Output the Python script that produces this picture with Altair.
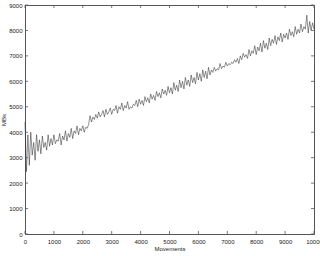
import altair as alt
import pandas as pd

movements = list(range(0, 10001, 50))
mbs = [
    4400, 2450, 3900, 2700, 4000, 3100, 3600, 2900, 3900, 3250,
    3700, 3150, 3850, 3400, 3600, 3300, 3900, 3450, 3750, 3500,
    3900, 3550, 3700, 3650, 3950, 3500, 3850, 3700, 4050, 3650,
    3950, 3800, 4150, 3750, 4050, 3950, 4250, 3900, 4150, 4050,
    4250, 4000, 4200, 4150, 4300, 4650, 4400, 4600, 4500, 4700,
    4550, 4800, 4600, 4700, 4850, 4600, 4900, 4700, 4800, 4950,
    4700, 4900, 4850, 5050, 4750, 5000, 4900, 5150, 4850, 5050,
    4950, 5200, 4900, 5000, 4950, 5100, 5050, 5250, 5000, 5300,
    5100, 5250, 5050, 5400, 5200, 5350, 5150, 5500, 5300, 5450,
    5250, 5600, 5400, 5550, 5350, 5700, 5500, 5650, 5450, 5800,
    5550, 5750, 5500, 5950, 5650, 5850, 5600, 6050, 5750, 6000,
    5700, 6150, 5850, 6050, 5800, 6250, 5950, 6150, 5900, 6350,
    6050, 6300, 6000, 6450, 6150, 6400, 6100, 6550, 6250, 6450,
    6350, 6550, 6400, 6500, 6450, 6700, 6500, 6600, 6550, 6750,
    6600, 6700, 6650, 6750, 6700, 6850, 6750, 6900, 6700, 7000,
    6850, 7100, 6950, 7050, 6900, 7250, 7000, 7200, 7100, 7400,
    7050, 7350, 7200, 7500, 7150, 7600, 7300, 7500, 7250, 7700,
    7400, 7650, 7500, 7800, 7450, 7750, 7600, 7900, 7550, 7850,
    7700, 7900, 7650, 8050, 7800, 7950, 7750, 8150, 7850, 8050,
    7900, 8250, 7950, 8150, 8050, 8600, 7900, 8350, 8000, 8300,
    8050,
]
x_ticks = list(range(0, 10001, 1000))
y_ticks = list(range(0, 9001, 1000))

W, H = 289, 229
FONT = "Liberation Sans"

df = pd.DataFrame({"Movements": movements, "MBs": mbs})
xt = pd.DataFrame({"Movements": x_ticks})
yt = pd.DataFrame({"MBs": y_ticks})

xs = alt.Scale(domain=[0, 10000], nice=False, zero=False)
ys = alt.Scale(domain=[0, 9000], nice=False)

xaxis = alt.Axis(values=x_ticks, format="d", title="Movements", tickSize=0,
                 domain=False, grid=False, labelFlush=False, labelOverlap=False,
                 labelPadding=4, titlePadding=1)
yaxis = alt.Axis(values=y_ticks, format="d", title="MBs", tickSize=0,
                 domain=False, grid=False, labelOverlap=False, labelPadding=3,
                 titlePadding=2)

X = alt.X("Movements:Q", scale=xs, axis=xaxis)
Y = alt.Y("MBs:Q", scale=ys, axis=yaxis)

line = alt.Chart(df).mark_line(color="#222", strokeWidth=0.5).encode(x=X, y=Y)

tick_len = 3
rule = dict(color="#555", strokeWidth=0.8)
bx = alt.Chart(xt).mark_rule(**rule).encode(
    x=X, y=alt.value(H), y2=alt.value(H - tick_len))
tx = alt.Chart(xt).mark_rule(**rule).encode(
    x=X, y=alt.value(0), y2=alt.value(tick_len))
ly = alt.Chart(yt).mark_rule(**rule).encode(
    y=Y, x=alt.value(0), x2=alt.value(tick_len))
ry = alt.Chart(yt).mark_rule(**rule).encode(
    y=Y, x=alt.value(W), x2=alt.value(W - tick_len))

chart = alt.layer(line, bx, tx, ly, ry).properties(
    width=W, height=H,
    autosize=alt.AutoSizeParams(type="none"),
    padding={"left": 25, "top": 5, "right": 6, "bottom": 22},
    background="white",
).configure_view(
    stroke="#555", strokeWidth=1
).configure_axis(
    labelFont=FONT, labelFontSize=6, labelColor="#222",
    titleFont=FONT, titleFontSize=6, titleColor="#222", titleFontWeight="normal",
)

chart.save("out.html", embed_options={"renderer": "svg", "actions": False})
